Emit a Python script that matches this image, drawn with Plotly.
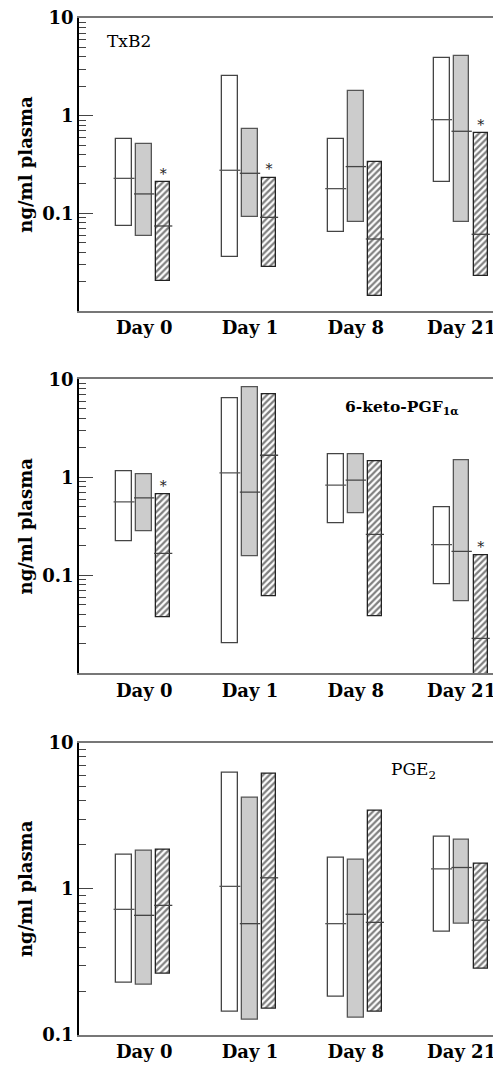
import plotly.graph_objects as go

days = ["Day 0", "Day 1", "Day 8", "Day 21"]
groups = ["white", "grey", "hatched"]

# ---- TxB2 (rows: white, grey, hatched; columns: days) ----
txb2_hi = [[0.573, 2.57, 0.573, 3.87], [0.513, 0.725, 1.79, 4.08], [0.208, 0.232, 0.336, 0.660]]
txb2_med = [[0.228, 0.276, 0.179, 0.910], [0.158, 0.257, 0.301, 0.692], [0.0742, 0.091, 0.0546, 0.061]]
txb2_lo = [[0.0737, 0.0357, 0.064, 0.211], [0.0582, 0.0925, 0.0822, 0.0822], [0.0203, 0.0282, 0.01425, 0.0226]]
txb2_star = [True, True, False, True]

# ---- 6-keto-PGF1a ----
keto_hi = [[1.156, 6.44, 1.72, 0.499], [1.07, 8.34, 1.71, 1.486], [0.668, 7.03, 1.45, 0.159]]
keto_med = [[0.561, 1.11, 0.832, 0.206], [0.617, 0.705, 0.935, 0.175], [0.167, 1.68, 0.262, 0.0227]]
keto_lo = [[0.222, 0.0203, 0.342, 0.0804], [0.282, 0.155, 0.43, 0.0546], [0.0372, 0.0606, 0.0381, 0.0095]]
keto_star = [True, False, False, True]

# ---- PGE2 ----
pge2_hi = [[1.70, 6.2, 1.64, 2.29], [1.81, 4.23, 1.58, 2.18], [1.84, 6.14, 3.44, 1.48]]
pge2_med = [[0.724, 1.04, 0.578, 1.37], [0.659, 0.578, 0.670, 1.40], [0.771, 1.19, 0.59, 0.61]]
pge2_lo = [[0.228, 0.145, 0.184, 0.507], [0.222, 0.127, 0.131, 0.578], [0.264, 0.151, 0.145, 0.283]]
pge2_star = [False, False, False, False]

panels = [
    ("TxB2", txb2_hi, txb2_med, txb2_lo, txb2_star),
    ("6-keto-PGF<sub>1α</sub>", keto_hi, keto_med, keto_lo, keto_star),
    ("PGE<sub>2</sub>", pge2_hi, pge2_med, pge2_lo, pge2_star),
]

# styling
offsets = [-0.19, 0.0, 0.18]
widths = [0.151, 0.147, 0.132]
fills = ["white", "#cccccc", "white"]
edges = ["#444444", "#555555", "#222222"]
medcol = ["#555555", "#444444", "#444444"]
FONT = "DejaVu Serif"
PX_PER_UNIT = 422 / (3.372 + 0.616)

fig = go.Figure()

domains = [[0.7119, 1.0], [0.3557, 0.6447], [0.0, 0.2874]]
yranges = [[-2, 1], [-2, 1], [-1, 1]]

for p, (label, hi, med, lo, star) in enumerate(panels):
    xa = "x" if p == 0 else f"x{p+1}"
    ya = "y" if p == 0 else f"y{p+1}"
    for g in range(3):
        xs = [i + offsets[g] for i in range(len(days))]
        kw = dict(color=fills[g], line=dict(color=edges[g], width=1.3))
        if g == 2:
            kw["pattern"] = dict(shape="/", fgcolor="black", bgcolor="white", size=4.5, solidity=0.5)
        fig.add_trace(go.Bar(
            x=xs, y=[h - l for h, l in zip(hi[g], lo[g])], base=lo[g],
            width=widths[g], marker=kw, xaxis=xa, yaxis=ya, showlegend=False,
            hoverinfo="skip"))
        fig.add_trace(go.Scatter(
            x=xs, y=med[g], mode="markers", xaxis=xa, yaxis=ya, showlegend=False,
            marker=dict(symbol="line-ew", size=widths[g] * PX_PER_UNIT - 1,
                        line=dict(color=medcol[g], width=1.3)),
            hoverinfo="skip"))
    sx = [i + offsets[2] for i in range(len(days)) if star[i]]
    sy = [hi[2][i] for i in range(len(days)) if star[i]]
    if sx:
        fig.add_trace(go.Scatter(
            x=sx, y=sy, mode="text", text=["*"] * len(sx), textposition="top center",
            textfont=dict(family=FONT, size=14, color="#222"),
            xaxis=xa, yaxis=ya, showlegend=False, hoverinfo="skip"))

    majors = [10.0 ** d for d in range(yranges[p][0], yranges[p][1] + 1) if 10.0 ** d > 0.05]
    minors = [m * 10.0 ** d for d in range(yranges[p][0], yranges[p][1]) for m in range(2, 10)]
    ticktext = ["10" if v == 10 else ("1" if v == 1 else "0.1") for v in majors]

    xkey = "xaxis" if p == 0 else f"xaxis{p+1}"
    ykey = "yaxis" if p == 0 else f"yaxis{p+1}"
    fig.update_layout(**{
        xkey: dict(domain=[0, 1], anchor=ya, range=[-0.616, 3.372], automargin=False,
                   tickvals=list(range(len(days))), ticktext=days, ticks="",
                   ticklabeloverflow="allow",
                   showline=True, linecolor="#777777", linewidth=1.5, mirror=True,
                   showgrid=False, zeroline=False,
                   tickfont=dict(family=FONT, size=18, color="black", weight="bold")),
        ykey: dict(domain=domains[p], anchor=xa, type="log", range=yranges[p], automargin=False,
                   tickvals=majors, ticktext=ticktext, ticks="inside", ticklen=14,
                   tickwidth=1.3, tickcolor="#444444", ticklabeloverflow="allow",
                   minor=dict(tickvals=minors, ticks="inside", ticklen=7, tickwidth=1.3,
                              tickcolor="#444444", showgrid=False),
                   showline=True, linecolor="black", linewidth=1.5, mirror=False,
                   showgrid=False, zeroline=False,
                   title=dict(text="ng/ml plasma", standoff=5,
                              font=dict(family=FONT, size=18, color="black", weight="bold")),
                   tickfont=dict(family=FONT, size=18, color="black", weight="bold")),
    })

# panel labels
fig.add_annotation(text="TxB2", xref="paper", yref="y domain", x=(105 - 79) / 422, y=0.921,
                   xanchor="left", yanchor="middle", showarrow=False,
                   font=dict(family=FONT, size=17, color="black"))
fig.add_annotation(text="6-keto-PGF<sub>1α</sub>", xref="paper", yref="y2 domain",
                   x=(343 - 79) / 422, y=0.905, xanchor="left", yanchor="middle", showarrow=False,
                   font=dict(family=FONT, size=15.5, color="black", weight="bold"))
fig.add_annotation(text="PGE<sub>2</sub>", xref="paper", yref="y3 domain",
                   x=(389 - 79) / 422, y=0.905, xanchor="left", yanchor="middle", showarrow=False,
                   font=dict(family=FONT, size=17, color="black"))

# the page body has an 8px default margin: size the figure so it lands on the reference pixels
fig.update_layout(
    width=493, height=1058, barmode="overlay", bargap=0,
    margin=dict(l=71, r=0, t=10, b=31),
    paper_bgcolor="white", plot_bgcolor="white", showlegend=False,
)

fig.write_html("out.html")
